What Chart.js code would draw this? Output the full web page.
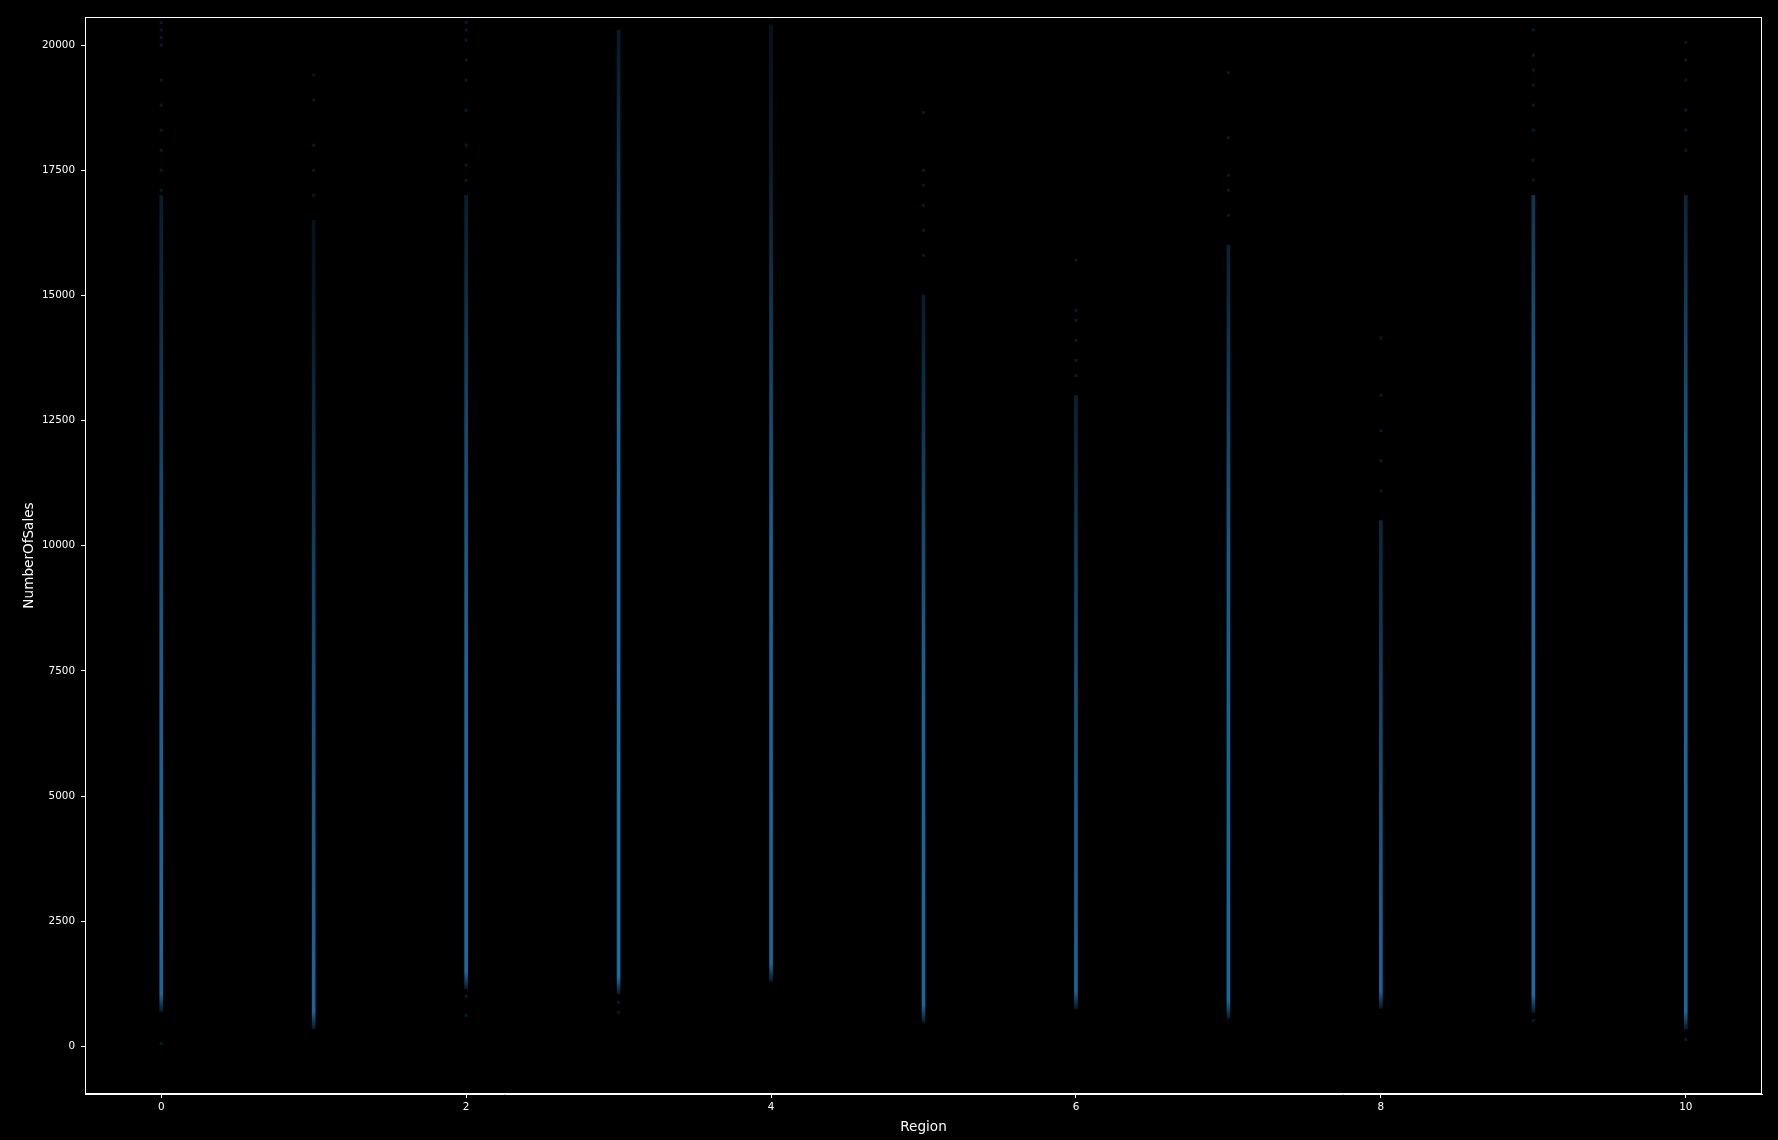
<!DOCTYPE html>
<html>
<head>
<meta charset="utf-8">
<script src="https://cdn.jsdelivr.net/npm/chart.js@4/dist/chart.umd.min.js"></script>
<style>
  html, body { margin: 0; padding: 0; background: #000; }
  #wrap { width: 1778px; height: 1140px; }
</style>
</head>
<body>
<div id="wrap"><canvas id="c" width="1778" height="1140"></canvas></div>
<script>
// ---- data ----
const regions = [0, 1, 2, 3, 4, 5, 6, 7, 8, 9, 10];
// lowest and highest NumberOfSales of the continuous part of each strip
const lowSales  = [700, 350, 1150, 1050, 1300, 480, 750, 560, 760, 680, 340];
const highSales = [17000, 16500, 17000, 20300, 20400, 15000, 13000, 16000, 10500, 17000, 17000];
// relative point density along each strip, at these sales levels
const densityLevels = [1500, 2500, 5000, 7500, 10000, 12500, 15000, 17500, 20000];
const density0  = [0.90, 0.95, 0.85, 0.75, 0.60, 0.40, 0.20, 0.08, 0.03];
const density1  = [0.85, 0.80, 0.70, 0.55, 0.40, 0.22, 0.08, 0.03, 0.00];
const density2  = [0.95, 0.95, 0.95, 0.85, 0.70, 0.50, 0.25, 0.08, 0.03];
const density3  = [1.00, 1.00, 1.00, 0.95, 0.90, 0.80, 0.55, 0.30, 0.10];
const density4  = [0.90, 0.90, 0.88, 0.85, 0.80, 0.55, 0.30, 0.12, 0.05];
const density5  = [0.90, 0.90, 0.85, 0.80, 0.55, 0.30, 0.10, 0.03, 0.00];
const density6  = [0.85, 0.80, 0.70, 0.55, 0.35, 0.15, 0.05, 0.00, 0.00];
const density7  = [0.90, 0.90, 0.85, 0.80, 0.70, 0.45, 0.20, 0.05, 0.02];
const density8  = [0.85, 0.80, 0.60, 0.40, 0.20, 0.06, 0.02, 0.00, 0.00];
const density9  = [0.95, 0.95, 0.95, 0.95, 0.90, 0.75, 0.50, 0.25, 0.08];
const density10 = [0.90, 0.90, 0.90, 0.88, 0.80, 0.60, 0.35, 0.12, 0.04];
const densities = [density0, density1, density2, density3, density4, density5,
                   density6, density7, density8, density9, density10];
// isolated (sparse) sales values outside the dense strips
const sparse0  = [20450, 20300, 20150, 20000, 19300, 18800, 18300, 17900, 17500, 17100, 60];
const sparse1  = [19400, 18900, 18000, 17500, 17000];
const sparse2  = [20450, 20300, 20100, 19700, 19300, 18700, 18000, 17600, 17300, 1000, 620];
const sparse3  = [880, 680];
const sparse4  = [20550];
const sparse5  = [18650, 17500, 17200, 16800, 16300, 15800];
const sparse6  = [15700, 14700, 14500, 14100, 13700, 13400];
const sparse7  = [19450, 18150, 17400, 17100, 16600];
const sparse8  = [14150, 13000, 12300, 11700, 11100];
const sparse9  = [20300, 19800, 19500, 19200, 18800, 18300, 17700, 17300, 520];
const sparse10 = [20050, 19700, 19300, 18700, 18300, 17900, 140];
const sparseSets = [sparse0, sparse1, sparse2, sparse3, sparse4, sparse5,
                    sparse6, sparse7, sparse8, sparse9, sparse10];
const xTicks = [0, 2, 4, 6, 8, 10];
const yTicks = [0, 2500, 5000, 7500, 10000, 12500, 15000, 17500, 20000];

// ---- build datasets ----
const stripData = regions.map((r, i) => ({ x: r, y: [lowSales[i], highSales[i]] }));
const sparseData = [];
regions.forEach((r, i) => sparseSets[i].forEach(v => sparseData.push({ x: r, y: v })));

const BLUE = [31, 119, 180];
function rgba(a) { return `rgba(${BLUE[0]},${BLUE[1]},${BLUE[2]},${Math.max(0, Math.min(1, a)).toFixed(3)})`; }
// overlapping translucent markers: apparent opacity grows faster than density
function alphaOf(d) { return 0.92 * Math.pow(Math.max(d, 0), 0.6); }

function stripGradient(ctx) {
  const chart = ctx.chart;
  const ys = chart.scales.y;
  const i = ctx.dataIndex;
  if (!ys || i === undefined || !chart.chartArea) return rgba(0.5);
  const lo = lowSales[i], hi = highSales[i];
  const d = densities[i];
  const p0 = ys.getPixelForValue(lo), p1 = ys.getPixelForValue(hi);
  const g = chart.ctx.createLinearGradient(0, p0, 0, p1);
  const off = v => Math.max(0, Math.min(1, (ys.getPixelForValue(v) - p0) / (p1 - p0)));
  g.addColorStop(0, rgba(alphaOf(d[0]) * 0.25));
  g.addColorStop(off(lo + 350), rgba(alphaOf(d[0])));
  densityLevels.forEach((lv, j) => {
    if (lv > lo + 350 && lv < hi) g.addColorStop(off(lv), rgba(alphaOf(d[j])));
  });
  let top = d[d.length - 1];
  for (let j = 0; j < densityLevels.length - 1; j++) {
    if (hi >= densityLevels[j] && hi <= densityLevels[j + 1]) {
      const t = (hi - densityLevels[j]) / (densityLevels[j + 1] - densityLevels[j]);
      top = d[j] + (d[j + 1] - d[j]) * t;
    }
  }
  g.addColorStop(1, rgba(alphaOf(Math.max(top, 0.02))));
  return g;
}

const frame = {
  id: 'frame',
  afterDraw(chart) {
    const { ctx, chartArea: a } = chart;
    ctx.save();
    ctx.strokeStyle = '#ffffff';
    ctx.lineWidth = 1;
    ctx.strokeRect(Math.round(a.left) + 0.5, Math.round(a.top) + 0.5,
                   Math.round(a.right - a.left) - 1, Math.round(a.bottom - a.top) - 1);
    ctx.restore();
  }
};
const bg = {
  id: 'bg',
  beforeDraw(chart) {
    const ctx = chart.ctx;
    ctx.save(); ctx.fillStyle = '#000'; ctx.fillRect(0, 0, chart.width, chart.height); ctx.restore();
  }
};

const FONT = "'DejaVu Sans', sans-serif";

new Chart(document.getElementById('c'), {
  type: 'bar',
  data: {
    datasets: [
      {
        type: 'bar',
        data: stripData,
        grouped: false,
        barThickness: 3,
        borderWidth: 0,
        backgroundColor: stripGradient
      },
      {
        type: 'scatter',
        data: sparseData,
        pointStyle: 'rect',
        pointRadius: 2.1,
        pointBorderWidth: 0,
        pointBackgroundColor: 'rgba(31,119,180,0.22)',
        borderWidth: 0
      }
    ]
  },
  options: {
    responsive: false,
    animation: false,
    devicePixelRatio: 1,
    layout: { padding: { top: 17, right: 16, left: 0, bottom: 0 } },
    plugins: { legend: { display: false }, tooltip: { enabled: false } },
    scales: {
      x: {
        type: 'linear',
        min: -0.5, max: 10.5,
        offset: false,
        afterBuildTicks: s => { s.ticks = xTicks.map(v => ({ value: v })); },
        afterFit: s => { s.height = 46; },
        grid: { display: true, offset: false, drawOnChartArea: false, drawTicks: true, tickLength: 4, color: '#ffffff', lineWidth: 1 },
        border: { display: true, color: '#ffffff', width: 1 },
        ticks: { color: '#ffffff', font: { family: FONT, size: 10.4 }, padding: 3, maxRotation: 0, autoSkip: false },
        title: { display: true, text: 'Region', color: '#ffffff', font: { family: FONT, size: 13.6 }, padding: { top: 0, bottom: 4.5 } }
      },
      y: {
        type: 'linear',
        min: -950, max: 20560,
        afterBuildTicks: s => { s.ticks = yTicks.map(v => ({ value: v })); },
        afterFit: s => { s.width = 85; },
        grid: { display: true, offset: false, drawOnChartArea: false, drawTicks: true, tickLength: 4, color: '#ffffff', lineWidth: 1 },
        border: { display: true, color: '#ffffff', width: 1 },
        ticks: { color: '#ffffff', font: { family: FONT, size: 10.4 }, padding: 6, autoSkip: false, callback: v => String(v) },
        title: { display: true, text: 'NumberOfSales', color: '#ffffff', font: { family: FONT, size: 13.6 }, padding: { top: 21, bottom: 0 } }
      }
    }
  },
  plugins: [bg, frame]
});
</script>
</body>
</html>
